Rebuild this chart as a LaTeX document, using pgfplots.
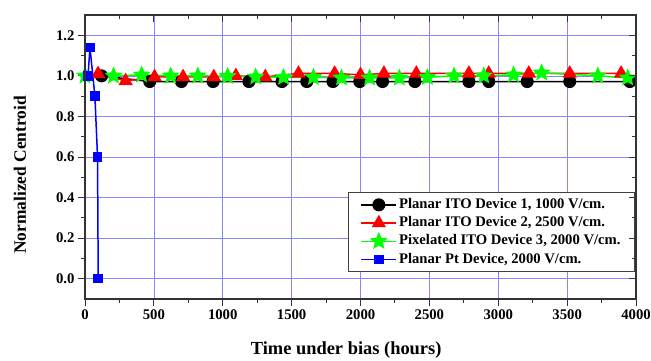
\documentclass[border=0pt]{standalone}
\usepackage{fontspec}
\setmainfont{Liberation Serif}
\usepackage{pgfplots}
\pgfplotsset{compat=1.18}
\definecolor{pgreen}{RGB}{0,255,0}
\definecolor{pred}{RGB}{255,0,0}
\definecolor{pblue}{RGB}{0,0,255}
\definecolor{gridblue}{RGB}{135,135,255}
\pgfdeclareplotmark{fstar}{%
  \pgfpathmoveto{\pgfpointpolar{90}{\pgfplotmarksize}}%
  \pgfpathlineto{\pgfpointpolar{126}{0.45\pgfplotmarksize}}%
  \pgfpathlineto{\pgfpointpolar{162}{\pgfplotmarksize}}%
  \pgfpathlineto{\pgfpointpolar{198}{0.45\pgfplotmarksize}}%
  \pgfpathlineto{\pgfpointpolar{234}{\pgfplotmarksize}}%
  \pgfpathlineto{\pgfpointpolar{270}{0.45\pgfplotmarksize}}%
  \pgfpathlineto{\pgfpointpolar{306}{\pgfplotmarksize}}%
  \pgfpathlineto{\pgfpointpolar{342}{0.45\pgfplotmarksize}}%
  \pgfpathlineto{\pgfpointpolar{18}{\pgfplotmarksize}}%
  \pgfpathlineto{\pgfpointpolar{54}{0.45\pgfplotmarksize}}%
  \pgfpathclose
  \pgfusepathqfillstroke}
\begin{document}
\begin{tikzpicture}
\path[use as bounding box] (-85bp,-62bp) rectangle (566bp,299bp);
\begin{axis}[
  at={(0,0)}, anchor=south west,
  width=551bp, height=284bp, scale only axis,
  xmin=0, xmax=4000, ymin=-0.1, ymax=1.3,
  xtick={0,500,1000,1500,2000,2500,3000,3500,4000}, minor x tick num=1,
  ytick={0,0.2,0.4,0.6,0.8,1.0,1.2}, minor y tick num=1,
  yticklabel style={/pgf/number format/.cd, fixed, fixed zerofill, precision=1},
  xticklabel style={/pgf/number format/.cd, fixed, 1000 sep={}},
  xtick pos=left, ytick pos=left, tick align=outside,
  major tick length=7bp, minor tick length=4bp,
  every tick/.style={black!80, line width=1pt},
  axis line style={black!80, line width=1.3pt},
  grid=major, major grid style={gridblue, line width=0.7pt},
  /pgf/number format/assume math mode=true,
  ticklabel style={font=\fontsize{14.8}{16}\selectfont\bfseries},
  xlabel={Time under bias (hours)},
  xlabel style={font=\fontsize{18.5}{20}\selectfont\bfseries, at={(axis description cs:0.474,-0.18)}, anchor=center},
  ylabel={Normalized Centroid},
  ylabel style={font=\fontsize{17.5}{19}\selectfont\bfseries, at={(axis description cs:-0.118,0.437)}, anchor=center},
  legend style={at={(0.998,0.095)}, anchor=south east, draw=black!75, line width=0.8pt,
    font=\fontsize{14.7}{16}\selectfont\bfseries, cells={anchor=west},
    nodes={text height=10.5pt, text depth=3.2pt, inner ysep=2.3pt, inner xsep=2pt},
    inner xsep=12pt, inner ysep=3pt, row sep=0pt},
  legend image code/.code={\draw[line width=1.5pt, mark repeat=2,mark phase=2] plot coordinates {(0cm,0cm) (0.62cm,0cm) (1.24cm,0cm)};},
  legend cell align=left,
]
\addplot[black, line width=1.5pt, mark=*, mark size=5.8, mark options={fill=black}] coordinates {
(120,1.0) (470,0.972) (700,0.972) (930,0.972) (1190,0.972) (1430,0.972) (1610,0.972) (1800,0.972)
(1995,0.972) (2160,0.972) (2395,0.972) (2787,0.972) (2931,0.972) (3210,0.972) (3519,0.972) (3955,0.972)};
\addlegendentry{Planar ITO Device 1, 1000 V/cm.}
\addplot[pred, line width=1.5pt, mark=triangle*, mark size=6.8, mark options={fill=pred, solid}] coordinates {
(95,1.01) (295,0.975) (505,0.995) (712,0.995) (935,0.995) (1095,1.0) (1309,0.995) (1550,1.012)
(1812,1.012) (2000,1.005) (2170,1.012) (2405,1.012) (2787,1.012) (2931,1.012) (3222,1.012) (3519,1.012) (3892,1.012)};
\addlegendentry{Planar ITO Device 2, 2500 V/cm.}
\addplot[pgreen, line width=1.5pt, mark=fstar, mark size=7.5, mark options={fill=pgreen, solid}] coordinates {
(0,1.0) (207,1.0) (411,1.005) (622,1.0) (819,1.0) (1035,0.998) (1239,0.995) (1441,0.993) (1658,0.993)
(1862,0.99) (2066,0.99) (2282,0.99) (2486,0.993) (2679,1.0) (2895,1.0) (3111,1.005) (3315,1.015) (3723,1.0) (3940,0.99)};
\addlegendentry{Pixelated ITO Device 3, 2000 V/cm.}
\addplot[pblue, line width=1.5pt, mark=square*, mark size=4, mark options={fill=pblue, solid}] coordinates {
(22,1.0) (36,1.14) (72,0.90) (91,0.6) (96,0.0)};
\addlegendentry{Planar Pt Device, 2000 V/cm.}
\end{axis}
\begin{axis}[
  at={(0,0)}, anchor=south west,
  width=551bp, height=284bp, scale only axis,
  xmin=0, xmax=4000, ymin=-0.1, ymax=1.3,
  xtick={0,500,1000,1500,2000,2500,3000,3500,4000}, minor x tick num=1,
  ytick={0,0.2,0.4,0.6,0.8,1.0,1.2}, minor y tick num=1,
  xtick pos=right, ytick pos=right, tick align=inside,
  xticklabels={}, yticklabels={},
  major tick length=7bp, minor tick length=4bp,
  every tick/.style={black!80, line width=1pt},
  axis line style={black!80, line width=1.3pt},
]
\end{axis}
\end{tikzpicture}
\end{document}
